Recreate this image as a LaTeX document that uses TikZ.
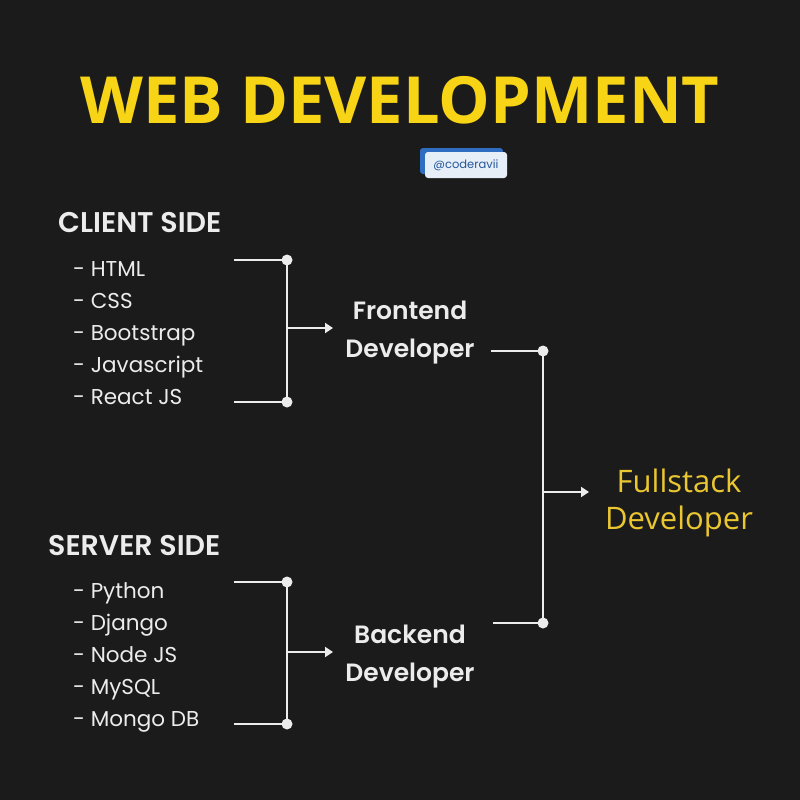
\documentclass[tikz,border=0pt]{standalone}
\usepackage{fontspec}
\setmainfont{Poppins}
\newfontfamily\opensans{Open Sans}
\newfontfamily\popsemi{Poppins SemiBold}
\usetikzlibrary{arrows.meta}
\definecolor{bg}{HTML}{1B1B1B}
\definecolor{ttl}{HTML}{F7D415}
\definecolor{fs}{HTML}{EAC731}
\definecolor{fg}{HTML}{ECECEC}
\definecolor{badgeblue}{HTML}{2F6DC0}
\definecolor{badgefill}{HTML}{E6EEF8}
\begin{document}
\begin{tikzpicture}[x=1pt,y=-1pt,
  item/.style={anchor=base west,inner sep=0pt,text=fg,font=\fontsize{21.5}{24}\selectfont},
  head/.style={anchor=base west,inner sep=0pt,text=fg,font=\popsemi\fontsize{28.5}{30}\selectfont},
  role/.style={inner sep=0pt,text=fg,align=center,font=\popsemi\fontsize{25}{38}\selectfont},
  wire/.style={draw=fg,line width=2.2pt},
  dot/.style={circle,fill=fg,inner sep=0pt,minimum size=11pt},
  arr/.style={wire,-{Triangle[length=8pt,width=10pt]}}]
\fill[bg] (0,0) rectangle (800,800);
\useasboundingbox (0,0) rectangle (800,800);
\node[text=ttl,inner sep=0pt,font=\opensans\bfseries\fontsize{65}{80}\selectfont] (title) at (400,100) {WEB DEVELOPMENT};
% badge
\fill[badgeblue,rounded corners=3pt] (420,148) rectangle (503,174);
\node[fill=badgefill,rounded corners=3pt,minimum width=82pt,minimum height=26pt,inner sep=0pt,text=badgeblue!80!black,font=\fontsize{11.5}{13}\selectfont] (badge) at (466,165) {@coderavii};
% client side
\node[head] (client) at (58,232) {CLIENT SIDE};
\node[item] (c1) at (73,276) {- HTML};
\node[item] (c2) at (73,308) {- CSS};
\node[item] (c3) at (73,340) {- Bootstrap};
\node[item] (c4) at (73,372) {- Javascript};
\node[item] (c5) at (73,404) {- React JS};
\coordinate (ca) at (234,260);
\coordinate (cb) at (234,402);
\node[dot] (cda) at (287,260) {};
\node[dot] (cdb) at (287,402) {};
\coordinate (cm) at (287,328);
\node[role] (front) at (410,333) {Frontend\\Developer};
\draw[wire] (ca) -- (cda.center) -- (cdb.center) -- (cb);
\draw[arr] (cm) -- (333,328);
% server side
\node[head] (server) at (48,555) {SERVER SIDE};
\node[item] (s1) at (73,598) {- Python};
\node[item] (s2) at (73,630) {- Django};
\node[item] (s3) at (73,662) {- Node JS};
\node[item] (s4) at (73,694) {- MySQL};
\node[item] (s5) at (73,726) {- Mongo DB};
\coordinate (sa) at (234,582);
\coordinate (sb) at (234,724);
\node[dot] (sda) at (287,582) {};
\node[dot] (sdb) at (287,724) {};
\coordinate (sm) at (287,652);
\node[role] (back) at (410,657) {Backend\\Developer};
\draw[wire] (sa) -- (sda.center) -- (sdb.center) -- (sb);
\draw[arr] (sm) -- (333,652);
% fullstack
\coordinate (fa) at (491,351);
\coordinate (fb) at (493,623);
\node[dot] (fda) at (543,351) {};
\node[dot] (fdb) at (543,623) {};
\coordinate (fm) at (543,492);
\draw[wire] (fa) -- (fda.center) -- (fdb.center) -- (fb);
\draw[arr] (fm) -- (589,492);
\node[inner sep=0pt,align=center,text=fs,font=\opensans\fontsize{31}{37}\selectfont] (full) at (679,503) {Fullstack\\Developer};
\end{tikzpicture}
\end{document}
